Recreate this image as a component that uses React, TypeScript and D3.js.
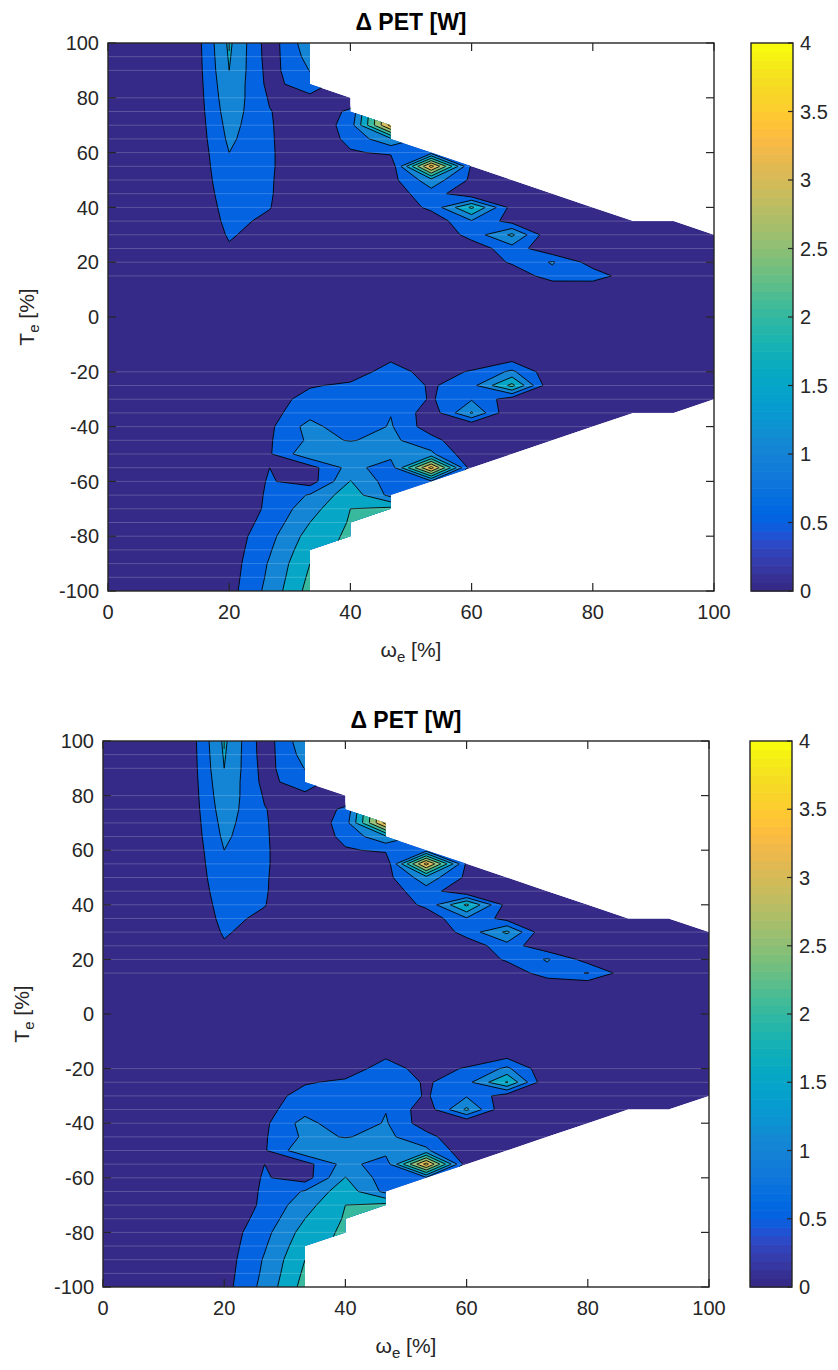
import React from "react";
import * as d3 from "d3";

// ---------------- data ----------------
const omegaGrid = [0, 6.667, 13.333, 20, 26.667, 33.333, 40, 46.667, 53.333, 60, 66.667, 73.333, 80, 86.667, 93.333, 100];
const torqueGrid = [100, 95, 90, 85, 80, 75, 70, 65, 60, 55, 50, 45, 40, 35, 30, 25, 20, 15, 10, 5, 0,
  -5, -10, -15, -20, -25, -30, -35, -40, -45, -50, -55, -60, -65, -70, -75, -80, -85, -90, -95, -100];
const torqueMax = [100, 100, 100, 100, 100, 100, 80, 70, 60, 55, 50, 45, 40, 35, 35, 30];
const torqueMin = [-100, -100, -100, -100, -100, -100, -80, -70, -60, -55, -50, -45, -40, -35, -35, -30];
const contourLevels = [0.5, 1, 1.5, 2, 2.5, 3, 3.5];
const colorLimits = [0, 4];
const xTicks = [0, 20, 40, 60, 80, 100];
const yTicks = [-100, -80, -60, -40, -20, 0, 20, 40, 60, 80, 100];
const colorbarTicks = [0, 0.5, 1, 1.5, 2, 2.5, 3, 3.5, 4];
const seamRows = [95, 90, 80, 75, 70, 65, 60, 55, 50, 45, 40, 35, 30, 25, 20, 15, -20, -25, -30, -35, -40, -45, -50, -55, -60, -65, -70, -75, -80, -85, -90, -95];
const N = null;

// rows: T = 100 ... -100 ; columns: omega = 0 ... 100
const petTop: (number | null)[][] = [
  [0, 0, 0, 1.6, 0.22, 1.35, N, N, N, N, N, N, N, N, N, N],
  [0, 0, 0, 1.55, 0.25, 1.2, N, N, N, N, N, N, N, N, N, N],
  [0, 0, 0, 1.5, 0.3, 1.02, N, N, N, N, N, N, N, N, N, N],
  [0, 0, 0, 1.42, 0.35, 0.75, N, N, N, N, N, N, N, N, N, N],
  [0, 0, 0, 1.35, 0.45, 0.4, 0.2, N, N, N, N, N, N, N, N, N],
  [0, 0, 0, 1.27, 0.52, 0.2, 0.58, N, N, N, N, N, N, N, N, N],
  [0, 0, 0, 1.18, 0.55, 0.05, 0.75, 3.7, N, N, N, N, N, N, N, N],
  [0, 0, 0, 1.1, 0.56, 0.05, 0.65, 1.4, N, N, N, N, N, N, N, N],
  [0, 0, 0, 1.0, 0.57, 0.05, 0.45, 0.58, 0.8, N, N, N, N, N, N, N],
  [0, 0, 0, 0.93, 0.57, 0.05, 0.1, 0.1, 3.7, 0.4, N, N, N, N, N, N],
  [0, 0, 0, 0.86, 0.56, 0, 0, 0.32, 1.3, 0.4, 0.1, N, N, N, N, N],
  [0, 0, 0, 0.78, 0.55, 0, 0, 0.23, 0.8, 0, 0.1, 0.05, N, N, N, N],
  [0, 0, 0, 0.7, 0.52, 0, 0, 0.1, 0.62, 2.1, 0.3, 0.1, 0.05, N, N, N],
  [0, 0, 0, 0.63, 0.4, 0, 0, 0, 0.16, 0.95, 0.3, 0.1, 0.05, 0, 0, N],
  [0, 0, 0, 0.55, 0.3, 0, 0, 0, 0, 0.7, 1.6, 0, 0, 0, 0, 0],
  [0, 0, 0, 0.45, 0.2, 0, 0, 0, 0, 0.2, 0.79, 0.07, 0.05, 0, 0, 0],
  [0, 0, 0, 0.35, 0.1, 0, 0, 0, 0, 0.05, 0.58, 1.05, 0.28, 0, 0, 0],
  [0, 0, 0, 0.25, 0, 0, 0, 0, 0, 0, 0.1, 0.8, 0.76, 0.2, 0, 0],
  [0, 0, 0, 0.15, 0, 0, 0, 0, 0, 0, 0, 0, 0.08, 0, 0, 0],
  [0, 0, 0, 0, 0, 0, 0, 0, 0, 0, 0, 0, 0, 0, 0, 0],
  [0, 0, 0, 0, 0, 0, 0, 0, 0, 0, 0, 0, 0, 0, 0, 0],
  [0, 0, 0, 0, 0, 0, 0, 0, 0, 0, 0, 0, 0, 0, 0, 0],
  [0, 0, 0, 0, 0, 0, 0, 0.1, 0, 0, 0, 0, 0, 0, 0, 0],
  [0, 0, 0, 0, 0, 0, 0.1, 0.4, 0.05, 0.1, 0.3, 0.05, 0, 0, 0, 0],
  [0, 0, 0, 0, 0, 0.1, 0.2, 0.75, 0.27, 0.55, 1.1, 0.1, 0, 0, 0, 0],
  [0, 0, 0, 0, 0.05, 0.45, 0.6, 0.9, 0.43, 0.84, 2.15, 0, 0, 0, 0, 0],
  [0, 0, 0, 0, 0.25, 0.7, 0.8, 0.9, 0.45, 0.95, 0.22, 0, 0, 0, 0, 0],
  [0, 0, 0, 0, 0.35, 0.8, 0.75, 0.98, 0.2, 1.55, 0, 0, 0, 0, 0, N],
  [0, 0, 0, 0, 0.4, 1.2, 0.6, 1.05, 0.2, 0, 0, 0, 0, N, N, N],
  [0, 0, 0, 0, 0.45, 1.1, 0.98, 1.1, 0.7, 0, 0, 0, N, N, N, N],
  [0, 0, 0, 0, 0.45, 1.4, 1.3, 1.2, 1.1, 0.1, 0, N, N, N, N, N],
  [0, 0, 0, 0.02, 0.5, 0.3, 1.2, 0.7, 3.7, 0.15, N, N, N, N, N, N],
  [0, 0, 0, 0.05, 0.55, 0.25, 1.52, 0.75, 0.9, N, N, N, N, N, N, N],
  [0, 0, 0, 0.08, 0.58, 1.05, 1.8, 0.85, N, N, N, N, N, N, N, N],
  [0, 0, 0, 0.1, 0.6, 1.3, 2.0, 2.15, N, N, N, N, N, N, N, N],
  [0, 0, 0, 0.15, 0.7, 1.5, 2.05, N, N, N, N, N, N, N, N, N],
  [0, 0, 0, 0.2, 0.85, 1.7, 2.1, N, N, N, N, N, N, N, N, N],
  [0, 0, 0, 0.22, 0.95, 1.85, N, N, N, N, N, N, N, N, N, N],
  [0, 0, 0, 0.25, 1.05, 2.0, N, N, N, N, N, N, N, N, N, N],
  [0, 0, 0, 0.28, 1.1, 2.1, N, N, N, N, N, N, N, N, N, N],
  [0, 0, 0, 0.31, 1.17, 2.2, N, N, N, N, N, N, N, N, N, N],
];

const petBottom: (number | null)[][] = [
  [0, 0, 0, 1.6, 0.22, 1.35, N, N, N, N, N, N, N, N, N, N],
  [0, 0, 0, 1.55, 0.25, 1.2, N, N, N, N, N, N, N, N, N, N],
  [0, 0, 0, 1.5, 0.3, 1.02, N, N, N, N, N, N, N, N, N, N],
  [0, 0, 0, 1.42, 0.35, 0.75, N, N, N, N, N, N, N, N, N, N],
  [0, 0, 0, 1.35, 0.45, 0.4, 0.2, N, N, N, N, N, N, N, N, N],
  [0, 0, 0, 1.27, 0.52, 0.2, 0.58, N, N, N, N, N, N, N, N, N],
  [0, 0, 0, 1.18, 0.55, 0.05, 0.75, 3.7, N, N, N, N, N, N, N, N],
  [0, 0, 0, 1.1, 0.56, 0.05, 0.65, 1.4, N, N, N, N, N, N, N, N],
  [0, 0, 0, 1.0, 0.57, 0.05, 0.45, 0.58, 0.8, N, N, N, N, N, N, N],
  [0, 0, 0, 0.93, 0.57, 0.05, 0.1, 0.1, 3.7, 0.4, N, N, N, N, N, N],
  [0, 0, 0, 0.86, 0.56, 0, 0, 0.32, 1.3, 0.4, 0.1, N, N, N, N, N],
  [0, 0, 0, 0.78, 0.55, 0, 0, 0.23, 0.8, 0, 0.1, 0.05, N, N, N, N],
  [0, 0, 0, 0.7, 0.52, 0, 0, 0.1, 0.62, 2.1, 0.3, 0.1, 0.05, N, N, N],
  [0, 0, 0, 0.63, 0.4, 0, 0, 0, 0.16, 0.95, 0.3, 0.1, 0.05, 0, 0, N],
  [0, 0, 0, 0.55, 0.3, 0, 0, 0, 0, 0.7, 1.6, 0, 0, 0, 0, 0],
  [0, 0, 0, 0.45, 0.2, 0, 0, 0, 0, 0.2, 0.79, 0.07, 0.05, 0, 0, 0],
  [0, 0, 0, 0.35, 0.1, 0, 0, 0, 0, 0.05, 0.58, 1.05, 0.28, 0, 0, 0],
  [0, 0, 0, 0.25, 0, 0, 0, 0, 0, 0, 0.1, 0.8, 1.02, 0.2, 0, 0],
  [0, 0, 0, 0.15, 0, 0, 0, 0, 0, 0, 0, 0, 0.08, 0, 0, 0],
  [0, 0, 0, 0, 0, 0, 0, 0, 0, 0, 0, 0, 0, 0, 0, 0],
  [0, 0, 0, 0, 0, 0, 0, 0, 0, 0, 0, 0, 0, 0, 0, 0],
  [0, 0, 0, 0, 0, 0, 0, 0, 0, 0, 0, 0, 0, 0, 0, 0],
  [0, 0, 0, 0, 0, 0, 0, 0.1, 0, 0, 0, 0, 0, 0, 0, 0],
  [0, 0, 0, 0, 0, 0, 0.1, 0.4, 0.05, 0.1, 0.3, 0.05, 0, 0, 0, 0],
  [0, 0, 0, 0, 0, 0.1, 0.2, 0.75, 0.27, 0.55, 1.1, 0.1, 0, 0, 0, 0],
  [0, 0, 0, 0, 0.05, 0.45, 0.6, 0.9, 0.43, 0.84, 2.05, 0, 0, 0, 0, 0],
  [0, 0, 0, 0, 0.25, 0.7, 0.8, 0.9, 0.45, 0.95, 0.22, 0, 0, 0, 0, 0],
  [0, 0, 0, 0, 0.35, 0.8, 0.75, 0.98, 0.2, 1.6, 0, 0, 0, 0, 0, N],
  [0, 0, 0, 0, 0.4, 1.2, 0.6, 1.05, 0.2, 0, 0, 0, 0, N, N, N],
  [0, 0, 0, 0, 0.45, 1.1, 0.98, 1.1, 0.7, 0, 0, 0, N, N, N, N],
  [0, 0, 0, 0, 0.45, 1.4, 1.3, 1.2, 1.1, 0.1, 0, N, N, N, N, N],
  [0, 0, 0, 0.02, 0.5, 0.3, 1.2, 0.7, 3.7, 0.15, N, N, N, N, N, N],
  [0, 0, 0, 0.05, 0.55, 0.25, 1.52, 0.75, 0.9, N, N, N, N, N, N, N],
  [0, 0, 0, 0.08, 0.58, 1.05, 1.8, 0.85, N, N, N, N, N, N, N, N],
  [0, 0, 0, 0.1, 0.6, 1.3, 2.0, 2.15, N, N, N, N, N, N, N, N],
  [0, 0, 0, 0.15, 0.7, 1.5, 2.05, N, N, N, N, N, N, N, N, N],
  [0, 0, 0, 0.2, 0.85, 1.7, 2.1, N, N, N, N, N, N, N, N, N],
  [0, 0, 0, 0.22, 0.95, 1.85, N, N, N, N, N, N, N, N, N, N],
  [0, 0, 0, 0.25, 1.05, 2.0, N, N, N, N, N, N, N, N, N, N],
  [0, 0, 0, 0.28, 1.1, 2.1, N, N, N, N, N, N, N, N, N, N],
  [0, 0, 0, 0.31, 1.17, 2.2, N, N, N, N, N, N, N, N, N, N],
];

// parula colormap (64 entries)
const parulaMap: number[][] = [
  [0.2081, 0.1663, 0.5292], [0.2116, 0.1898, 0.5777], [0.2123, 0.2138, 0.627], [0.2081, 0.2386, 0.6771],
  [0.1959, 0.2645, 0.7279], [0.1707, 0.2919, 0.7792], [0.1253, 0.3242, 0.8303], [0.0591, 0.3598, 0.8683],
  [0.0117, 0.3875, 0.882], [0.006, 0.4086, 0.8828], [0.0165, 0.4266, 0.8786], [0.0329, 0.443, 0.872],
  [0.0498, 0.4586, 0.8641], [0.0629, 0.4737, 0.8554], [0.0723, 0.4887, 0.8467], [0.0779, 0.504, 0.8384],
  [0.0793, 0.52, 0.8312], [0.0749, 0.5375, 0.8263], [0.0641, 0.557, 0.824], [0.0488, 0.5772, 0.8228],
  [0.0343, 0.5966, 0.8199], [0.0265, 0.6137, 0.8135], [0.0239, 0.6287, 0.8038], [0.0231, 0.6418, 0.7913],
  [0.0228, 0.6535, 0.7768], [0.0267, 0.6642, 0.7607], [0.0384, 0.6743, 0.7436], [0.059, 0.6838, 0.7254],
  [0.0843, 0.6928, 0.7062], [0.1133, 0.7015, 0.6859], [0.1453, 0.7098, 0.6646], [0.1801, 0.7177, 0.6424],
  [0.2178, 0.725, 0.6193], [0.2586, 0.7317, 0.5954], [0.3022, 0.7376, 0.5712], [0.3482, 0.7424, 0.5473],
  [0.3953, 0.7459, 0.5244], [0.442, 0.7481, 0.5033], [0.4871, 0.7491, 0.484], [0.53, 0.7491, 0.4661],
  [0.5709, 0.7485, 0.4494], [0.6099, 0.7473, 0.4337], [0.6473, 0.7456, 0.4188], [0.6834, 0.7435, 0.4044],
  [0.7184, 0.7411, 0.3905], [0.7525, 0.7384, 0.3768], [0.7858, 0.7356, 0.3633], [0.8185, 0.7327, 0.3498],
  [0.8507, 0.7299, 0.336], [0.8824, 0.7274, 0.3217], [0.9139, 0.7258, 0.3063], [0.945, 0.7261, 0.2886],
  [0.9739, 0.7314, 0.2666], [0.9938, 0.7455, 0.2403], [0.999, 0.7653, 0.2164], [0.9955, 0.7861, 0.1967],
  [0.988, 0.8066, 0.1794], [0.9789, 0.8271, 0.1633], [0.9697, 0.8481, 0.1475], [0.9626, 0.8705, 0.1309],
  [0.9589, 0.8949, 0.1132], [0.9598, 0.9218, 0.0948], [0.9661, 0.9514, 0.0755], [0.9763, 0.9831, 0.0538],
];

const FONT = "'Liberation Sans', Arial, Helvetica, sans-serif";
const AXIS = "#262626";

function cmapIndex(v: number) {
  const t = (v - colorLimits[0]) / (colorLimits[1] - colorLimits[0]);
  return Math.max(0, Math.min(parulaMap.length - 1, Math.floor(t * parulaMap.length)));
}
function cmapColor(i: number) {
  const c = parulaMap[i];
  return d3.rgb(c[0] * 255, c[1] * 255, c[2] * 255).formatHex();
}
function levelColor(v: number) {
  return cmapColor(cmapIndex(v));
}

// extend valid column values into the masked area so contours meet the domain edge
function fillGrid(grid: (number | null)[][]) {
  const dy = grid.length;
  const dx = grid[0].length;
  const vals = new Array(dx * dy);
  for (let c = 0; c < dx; c++) {
    for (let r = 0; r < dy; r++) {
      let v = grid[r][c];
      if (v == null) {
        for (let k = 1; k < dy; k++) {
          const a = r - k >= 0 ? grid[r - k][c] : null;
          const b = r + k < dy ? grid[r + k][c] : null;
          if (a != null) { v = a; break; }
          if (b != null) { v = b; break; }
        }
      }
      vals[r * dx + c] = v;
    }
  }
  return vals;
}

type Box = { left: number; top: number; right: number; bottom: number; cbLeft: number; cbRight: number };

function domainPath(x: d3.ScaleLinear<number, number>, y: d3.ScaleLinear<number, number>) {
  const step = Math.abs(torqueGrid[0] - torqueGrid[1]);
  const pts: [number, number][] = [];
  const n = omegaGrid.length;
  pts.push([omegaGrid[0], torqueMax[0]]);
  for (let i = 0; i < n - 1; i++) {
    const a = torqueMax[i], b = torqueMax[i + 1];
    if (a > b) { pts.push([omegaGrid[i], b + step]); pts.push([omegaGrid[i + 1], b]); }
    else if (a < b) { pts.push([omegaGrid[i + 1], a + step]); pts.push([omegaGrid[i + 1], b]); }
    else pts.push([omegaGrid[i + 1], b]);
  }
  pts.push([omegaGrid[n - 1], torqueMin[n - 1]]);
  for (let i = n - 1; i > 0; i--) {
    const a = torqueMin[i], b = torqueMin[i - 1];
    if (a < b) { pts.push([omegaGrid[i], b - step]); pts.push([omegaGrid[i - 1], b]); }
    else if (a > b) { pts.push([omegaGrid[i - 1], a - step]); pts.push([omegaGrid[i - 1], b]); }
    else pts.push([omegaGrid[i - 1], b]);
  }
  return "M" + pts.map((p) => `${x(p[0])},${y(p[1])}`).join("L") + "Z";
}

function Panel({ data, box, id }: { data: (number | null)[][]; box: Box; id: string }) {
  const x = d3.scaleLinear().domain([0, 100]).range([box.left, box.right]);
  const y = d3.scaleLinear().domain([-100, 100]).range([box.bottom, box.top]);
  const dx = omegaGrid.length;
  const dy = torqueGrid.length;
  const values = fillGrid(data);
  const contours = d3.contours().size([dx, dy]).thresholds(contourLevels)(values);
  const gx = d3.scaleLinear().domain([0.5, dx - 0.5]).range([x(omegaGrid[0]), x(omegaGrid[dx - 1])]);
  const gy = d3.scaleLinear().domain([0.5, dy - 0.5]).range([y(torqueGrid[0]), y(torqueGrid[dy - 1])]);
  const proj = d3.geoTransform({
    point(px: number, py: number) {
      (this as any).stream.point(gx(px), gy(py));
    },
  });
  const path = d3.geoPath(proj);
  const dom = domainPath(x, y);
  const tick = 8;
  const cbY = d3.scaleLinear().domain(colorLimits).range([box.bottom, box.top]);
  const cbW = box.cbRight - box.cbLeft;
  const cx = (box.left + box.right) / 2;
  const cy = (box.top + box.bottom) / 2;
  const nC = parulaMap.length;
  const bandH = (box.bottom - box.top) / nC;

  return (
    <g>
      <defs>
        <clipPath id={id}>
          <path d={dom} />
        </clipPath>
      </defs>
      <g clipPath={`url(#${id})`}>
        <path d={dom} fill={levelColor(0)} />
        {contours.map((c, i) => (
          <path key={i} d={path(c as any) || ""} fill={levelColor(c.value)} stroke="#000" strokeWidth={0.9} strokeLinejoin="round" />
        ))}
        {seamRows.map((t) => (
          <line key={t} x1={box.left} x2={box.right} y1={y(t)} y2={y(t)} stroke="#ffffff" strokeOpacity={0.2} strokeWidth={1} />
        ))}
      </g>
      {/* axes box */}
      <rect x={box.left} y={box.top} width={box.right - box.left} height={box.bottom - box.top} fill="none" stroke={AXIS} strokeWidth={1.4} />
      {xTicks.map((t) => (
        <g key={"x" + t}>
          <line x1={x(t)} x2={x(t)} y1={box.bottom} y2={box.bottom - tick} stroke={AXIS} strokeWidth={1.2} />
          <line x1={x(t)} x2={x(t)} y1={box.top} y2={box.top + tick} stroke={AXIS} strokeWidth={1.2} />
          <text x={x(t)} y={box.bottom + 28} textAnchor="middle" fontFamily={FONT} fontSize={20} fill={AXIS}>{t}</text>
        </g>
      ))}
      {yTicks.map((t) => (
        <g key={"y" + t}>
          <line x1={box.left} x2={box.left + tick} y1={y(t)} y2={y(t)} stroke={AXIS} strokeWidth={1.2} />
          <line x1={box.right} x2={box.right - tick} y1={y(t)} y2={y(t)} stroke={AXIS} strokeWidth={1.2} />
          <text x={box.left - 9} y={y(t)} dy="0.36em" textAnchor="end" fontFamily={FONT} fontSize={20} fill={AXIS}>{t}</text>
        </g>
      ))}
      <text x={cx} y={box.top - 13} textAnchor="middle" fontFamily={FONT} fontSize={23} fontWeight="bold" fill="#000">Δ PET [W]</text>
      <text x={cx} y={box.bottom + 66} textAnchor="middle" fontFamily={FONT} fontSize={21} fill={AXIS}>
        ω<tspan fontSize={15} dy={5}>e</tspan><tspan dy={-5}> [%]</tspan>
      </text>
      <text transform={`translate(${box.left - 74},${cy}) rotate(-90)`} textAnchor="middle" fontFamily={FONT} fontSize={21} fill={AXIS}>
        T<tspan fontSize={15} dy={5}>e</tspan><tspan dy={-5}> [%]</tspan>
      </text>
      {/* colorbar */}
      {parulaMap.map((_, i) => (
        <rect key={"cb" + i} x={box.cbLeft} y={box.bottom - (i + 1) * bandH} width={cbW} height={bandH + 0.6} fill={cmapColor(i)} />
      ))}
      <rect x={box.cbLeft} y={box.top} width={cbW} height={box.bottom - box.top} fill="none" stroke={AXIS} strokeWidth={1.4} />
      {colorbarTicks.map((t) => (
        <g key={"c" + t}>
          <line x1={box.cbRight} x2={box.cbRight - 5} y1={cbY(t)} y2={cbY(t)} stroke={AXIS} strokeWidth={1.2} />
          <text x={box.cbRight + 7} y={cbY(t)} dy="0.36em" fontFamily={FONT} fontSize={20} fill={AXIS}>{t}</text>
        </g>
      ))}
    </g>
  );
}

const topBox: Box = { left: 108, top: 43, right: 714, bottom: 591, cbLeft: 751, cbRight: 793 };
const bottomBox: Box = { left: 103, top: 741, right: 709, bottom: 1287, cbLeft: 750, cbRight: 792 };

export default function App() {
  return (
    <svg width={838} height={1370} style={{ position: "absolute", left: 0, top: 0, background: "#fff" }}>
      <rect x={0} y={0} width={838} height={1370} fill="#fff" />
      <Panel data={petTop} box={topBox} id="clipTop" />
      <Panel data={petBottom} box={bottomBox} id="clipBottom" />
    </svg>
  );
}
